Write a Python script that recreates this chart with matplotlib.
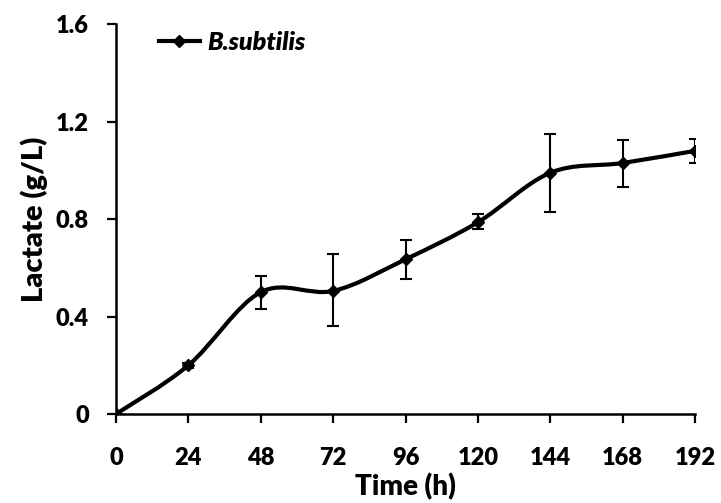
import matplotlib.pyplot as plt
import numpy as np
from matplotlib.path import Path
from matplotlib.patches import PathPatch
from matplotlib.lines import Line2D

plt.rcParams['font.family'] = ['Lato', 'DejaVu Sans']
plt.rcParams['font.weight'] = 'heavy'

time_h = [0, 24, 48, 72, 96, 120, 144, 168, 192]
lactate = [0.0, 0.20, 0.50, 0.505, 0.635, 0.787, 0.99, 1.03, 1.08]
err_low = [0.0, 0.01, 0.07, 0.145, 0.08, 0.027, 0.16, 0.10, 0.05]
err_high = [0.0, 0.01, 0.067, 0.15, 0.08, 0.033, 0.16, 0.095, 0.05]
xticks = [0, 24, 48, 72, 96, 120, 144, 168, 192]
yticks = [0, 0.4, 0.8, 1.2, 1.6]
ytick_labels = ['0', '0.4', '0.8', '1.2', '1.6']

fig = plt.figure(figsize=(7.21, 5.03), dpi=100)
ax = fig.add_axes([0.161, 0.177, 0.803, 0.775])

# smoothed line like a spreadsheet "smooth line" (Bezier through the points)
x = np.array(time_h, dtype=float)
y = np.array(lactate, dtype=float)
verts = [(x[0], y[0])]
codes = [Path.MOVETO]
t = 1.0 / 6.0
for i in range(len(x) - 1):
    p0 = (x[i - 1], y[i - 1]) if i > 0 else (x[i], y[i])
    p1 = (x[i], y[i])
    p2 = (x[i + 1], y[i + 1])
    p3 = (x[i + 2], y[i + 2]) if i + 2 < len(x) else (x[i + 1], y[i + 1])
    c1 = (p1[0] + (p2[0] - p0[0]) * t, p1[1] + (p2[1] - p0[1]) * t)
    c2 = (p2[0] - (p3[0] - p1[0]) * t, p2[1] - (p3[1] - p1[1]) * t)
    verts += [c1, c2, p2]
    codes += [Path.CURVE4] * 3
ax.add_patch(PathPatch(Path(verts, codes), facecolor='none', edgecolor='black',
                       lw=3, capstyle='round', joinstyle='round', zorder=3))

ax.errorbar(time_h, lactate, yerr=[err_low, err_high], fmt='D', color='black',
            ms=6, ecolor='black', elinewidth=1.5, capsize=4.5, capthick=1.5, zorder=4)

ax.set_xlim(0, 192)
ax.set_ylim(0, 1.6)
ax.set_xticks(xticks)
ax.set_yticks(yticks)
ax.set_yticklabels(ytick_labels)
ax.tick_params(labelsize=17, width=1.6, length=6.5, direction='out')
ax.tick_params(axis='y', pad=13)
ax.tick_params(axis='x', pad=17)
for s in ['top', 'right']:
    ax.spines[s].set_visible(False)
for s in ['left', 'bottom']:
    ax.spines[s].set_linewidth(1.8)
    ax.spines[s].set_clip_on(False)

ax.set_xlabel('Time (h)', fontsize=20, fontweight='heavy', labelpad=3)
ax.set_ylabel('Lactate (g/L)', fontsize=21, fontweight='heavy', labelpad=6)

handle = Line2D([], [], color='black', lw=3, marker='D', ms=6)
leg = ax.legend([handle], ['B.subtilis'], loc='upper left', frameon=False,
                bbox_to_anchor=(0.035, 1.04), handlelength=1.65, handletextpad=0.3,
                prop={'style': 'italic', 'weight': 'heavy', 'size': 18})

fig.savefig('out.png', dpi=100)
